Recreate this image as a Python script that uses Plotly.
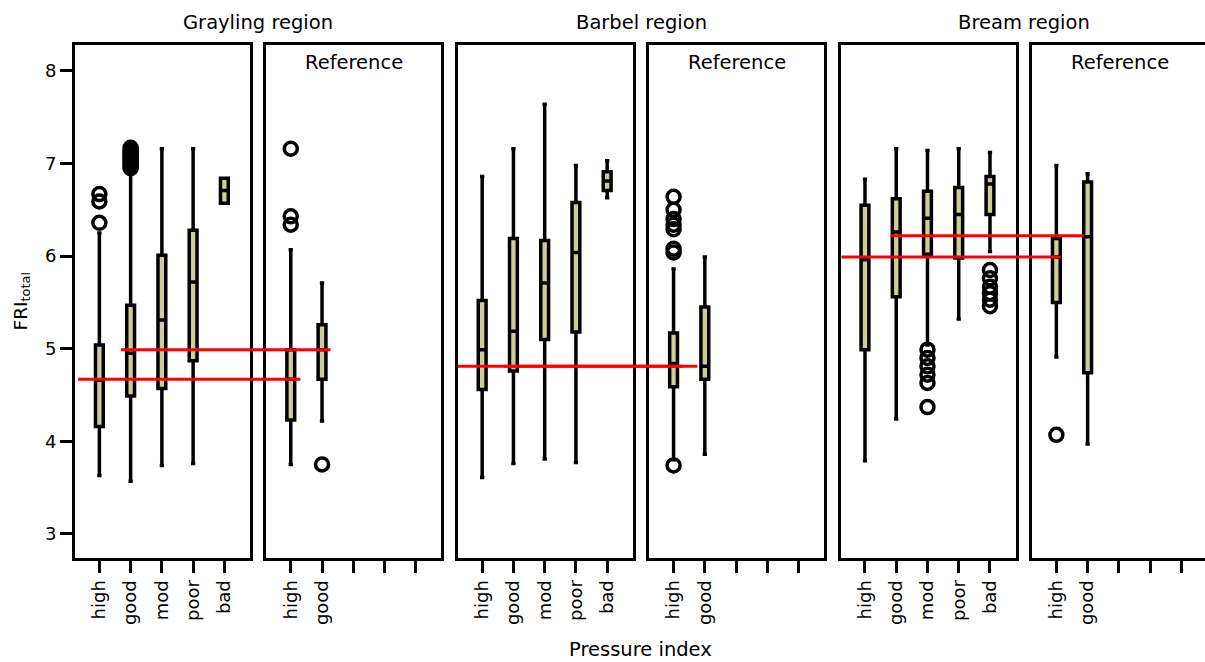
import plotly.graph_objects as go

# ---------------- data ----------------
CATEGORIES = ["high", "good", "mod", "poor", "bad"]
REF_CATEGORIES = ["high", "good"]
REGIONS = ["Grayling region", "Barbel region", "Bream region"]
REF_LABEL = "Reference"
X_TITLE = "Pressure index"
Y_TITLE = "FRI<sub>total</sub>"
Y_TICKS = [3, 4, 5, 6, 7, 8]

# Grayling region – impacted sites
gray_main_q1 = [4.16, 4.49, 4.57, 4.87, 6.57]
gray_main_med = [4.66, 4.95, 5.31, 5.72, 6.71]
gray_main_q3 = [5.04, 5.47, 6.01, 6.28, 6.84]
gray_main_lo = [3.63, 3.57, 3.74, 3.76, 6.57]
gray_main_hi = [6.25, 6.92, 7.16, 7.16, 6.84]
gray_main_out = [[6.67, 6.59, 6.36],
                 [6.95, 6.97, 6.99, 7.01, 7.03, 7.05, 7.07, 7.09, 7.11, 7.13, 7.15, 7.17],
                 [], [], []]
# Grayling region – reference sites
gray_ref_q1 = [4.23, 4.67]
gray_ref_med = [4.67, 4.99]
gray_ref_q3 = [4.99, 5.26]
gray_ref_lo = [3.75, 4.22]
gray_ref_hi = [6.07, 5.71]
gray_ref_out = [[7.16, 6.43, 6.34], [3.75]]

# Barbel region – impacted sites
barb_main_q1 = [4.56, 4.76, 5.10, 5.18, 6.71]
barb_main_med = [4.99, 5.19, 5.71, 6.04, 6.81]
barb_main_q3 = [5.52, 6.19, 6.17, 6.58, 6.91]
barb_main_lo = [3.61, 3.76, 3.81, 3.77, 6.63]
barb_main_hi = [6.86, 7.16, 7.64, 6.98, 7.03]
barb_main_out = [[], [], [], [], []]
# Barbel region – reference sites
barb_ref_q1 = [4.59, 4.67]
barb_ref_med = [4.84, 4.81]
barb_ref_q3 = [5.17, 5.45]
barb_ref_lo = [3.80, 3.86]
barb_ref_hi = [5.86, 5.99]
barb_ref_out = [[6.64, 6.50, 6.40, 6.34, 6.29, 6.08, 6.04, 3.74], []]

# Bream region – impacted sites
bream_main_q1 = [4.99, 5.56, 6.02, 5.98, 6.45]
bream_main_med = [5.96, 6.26, 6.41, 6.45, 6.78]
bream_main_q3 = [6.55, 6.62, 6.70, 6.74, 6.86]
bream_main_lo = [3.79, 4.24, 5.04, 5.32, 6.05]
bream_main_hi = [6.83, 7.16, 7.14, 7.16, 7.12]
bream_main_out = [[], [], [4.99, 4.90, 4.81, 4.72, 4.63, 4.37], [],
                  [5.85, 5.76, 5.67, 5.60, 5.53, 5.46]]
# Bream region – reference sites
bream_ref_q1 = [5.50, 4.74]
bream_ref_med = [5.99, 6.21]
bream_ref_q3 = [6.19, 6.80]
bream_ref_lo = [4.91, 3.97]
bream_ref_hi = [6.98, 6.89]
bream_ref_out = [[4.07], []]

# reference medians drawn as red lines (high, good) per region
gray_ref_lines = [4.67, 4.99]
barb_ref_lines = [4.81, 4.81]
bream_ref_lines = [5.99, 6.22]

# ---------------- styling / layout ----------------
FONT = "DejaVu Sans"
BOX_FILL = "#cfcc9c"
LINE_W = 3
BOX_LINE_W = 3.5
W, H = 1205, 662
M_L, M_R, M_T, M_B = 75, 0, 45, 104
PANEL_PX = 175.0
PANEL_STEP = 191.4
PX_PER_UNIT = 31.25
X0 = 0.22
Y_RANGE = [2.74, 8.28]

plot_w = W - M_L - M_R

panels = [
    (gray_main_q1, gray_main_med, gray_main_q3, gray_main_lo, gray_main_hi, gray_main_out, CATEGORIES),
    (gray_ref_q1, gray_ref_med, gray_ref_q3, gray_ref_lo, gray_ref_hi, gray_ref_out, REF_CATEGORIES),
    (barb_main_q1, barb_main_med, barb_main_q3, barb_main_lo, barb_main_hi, barb_main_out, CATEGORIES),
    (barb_ref_q1, barb_ref_med, barb_ref_q3, barb_ref_lo, barb_ref_hi, barb_ref_out, REF_CATEGORIES),
    (bream_main_q1, bream_main_med, bream_main_q3, bream_main_lo, bream_main_hi, bream_main_out, CATEGORIES),
    (bream_ref_q1, bream_ref_med, bream_ref_q3, bream_ref_lo, bream_ref_hi, bream_ref_out, REF_CATEGORIES),
]

domains = []
ranges = []
for k in range(6):
    left_px = k * PANEL_STEP
    right_px = min(left_px + PANEL_PX, plot_w)
    domains.append([left_px / plot_w, right_px / plot_w])
    ranges.append([X0, X0 + (right_px - left_px) / PX_PER_UNIT])


def paper_x(panel, pos):
    d0, d1 = domains[panel]
    r0, r1 = ranges[panel]
    return d0 + (pos - r0) / (r1 - r0) * (d1 - d0)


fig = go.Figure()
tick_pos = [i + 1 for i in range(len(CATEGORIES))]

for k, (q1, med, q3, lo, hi, outs, cats) in enumerate(panels):
    xa = "x" if k == 0 else f"x{k + 1}"
    ya = "y" if k == 0 else f"y{k + 1}"
    xpos = [CATEGORIES.index(c) + 1 for c in cats]
    fig.add_trace(go.Box(
        x=xpos, q1=q1, median=med, q3=q3, lowerfence=lo, upperfence=hi,
        width=0.25, whiskerwidth=0.55, fillcolor=BOX_FILL,
        line=dict(color="black", width=BOX_LINE_W), boxpoints=False,
        xaxis=xa, yaxis=ya, showlegend=False, hoverinfo="skip"))
    ox, oy = [], []
    for p, vals in zip(xpos, outs):
        for v in vals:
            ox.append(p)
            oy.append(v)
    if ox:
        fig.add_trace(go.Scatter(
            x=ox, y=oy, mode="markers", xaxis=xa, yaxis=ya, showlegend=False,
            hoverinfo="skip",
            marker=dict(symbol="circle-open", size=13, color="black",
                        line=dict(width=3.5, color="black"))))

layout = dict(
    width=W, height=H,
    margin=dict(l=M_L, r=M_R, t=M_T, b=M_B),
    plot_bgcolor="white", paper_bgcolor="white",
    font=dict(family=FONT, size=18, color="black"),
    showlegend=False,
)

for k in range(6):
    xkey = "xaxis" if k == 0 else f"xaxis{k + 1}"
    ykey = "yaxis" if k == 0 else f"yaxis{k + 1}"
    ya_name = "y" if k == 0 else f"y{k + 1}"
    xa_name = "x" if k == 0 else f"x{k + 1}"
    is_ref = (k % 2 == 1)
    labels = REF_CATEGORIES if is_ref else CATEGORIES
    xdict = dict(
        domain=domains[k], range=ranges[k], anchor=ya_name,
        tickmode="array", tickvals=[CATEGORIES.index(c) + 1 for c in labels], ticktext=labels,
        tickangle=-90, ticks="outside", ticklen=12, tickwidth=3, tickcolor="black",
        showline=True, linecolor="black", linewidth=LINE_W, mirror=True,
        showgrid=False, zeroline=False, tickfont=dict(size=18, family=FONT, color="black"),
    )
    if is_ref:
        # unlabeled tick marks at the remaining category slots
        xdict["minor"] = dict(tickmode="linear", tick0=1, dtick=1, ticks="outside",
                              ticklen=12, tickwidth=3, tickcolor="black", showgrid=False)
    layout[xkey] = xdict
    ydict = dict(
        domain=[0, 1], range=Y_RANGE, anchor=xa_name,
        showline=True, linecolor="black", linewidth=LINE_W,
        mirror=(k < 5), showgrid=False, zeroline=False,
    )
    if k == 0:
        ydict.update(tickmode="array", tickvals=Y_TICKS, ticks="outside", ticklen=12,
                     tickwidth=3, tickcolor="black",
                     tickfont=dict(size=18, family=FONT, color="black"))
    else:
        ydict.update(matches="y", showticklabels=False, ticks="")
    layout[ykey] = ydict

fig.update_layout(**layout)

plot_h = H - M_T - M_B
annotations = []
for r, name in enumerate(REGIONS):
    left = domains[2 * r][0]
    right = left + (PANEL_STEP + PANEL_PX) / plot_w
    annotations.append(dict(text=name, x=(left + right) / 2, y=1 + 23 / plot_h,
                            xref="paper", yref="paper",
                            xanchor="center", yanchor="middle", showarrow=False,
                            font=dict(size=19.5, family=FONT, color="black")))
    k = 2 * r + 1
    full_cx = domains[k][0] + PANEL_PX / plot_w / 2
    annotations.append(dict(text=REF_LABEL, x=full_cx, y=1 - 17 / plot_h, xref="paper", yref="paper",
                            xanchor="center", yanchor="middle", showarrow=False,
                            font=dict(size=19.5, family=FONT, color="black")))

annotations.append(dict(text=X_TITLE, x=0.5, y=-91 / plot_h, xref="paper", yref="paper",
                        xanchor="center", yanchor="middle", showarrow=False,
                        font=dict(size=19.5, family=FONT, color="black")))
annotations.append(dict(text=Y_TITLE, x=-(M_L - 21) / plot_w, y=0.5, xref="paper", yref="paper",
                        xanchor="center", yanchor="middle", showarrow=False, textangle=-90,
                        font=dict(size=18.5, family=FONT, color="black")))
fig.update_layout(annotations=annotations)

# red reference-median lines: (start position in impacted panel, end position in reference panel)
LINE_SPANS = [
    [(0.32, 1.31), (1.69, 2.27)],   # grayling
    [(0.22, 1.30), (1.70, 1.76)],   # barbel
    [(0.25, 1.15), (1.82, 1.88)],   # bream
]
ref_lines = [gray_ref_lines, barb_ref_lines, bream_ref_lines]
shapes = []
for r in range(3):
    for val, (s, e) in zip(ref_lines[r], LINE_SPANS[r]):
        shapes.append(dict(type="line", xref="paper", yref="y",
                           x0=paper_x(2 * r, s), x1=paper_x(2 * r + 1, e), y0=val, y1=val,
                           line=dict(color="#ff0000", width=3), layer="above"))
fig.update_layout(shapes=shapes)

fig.write_html("out.html")
